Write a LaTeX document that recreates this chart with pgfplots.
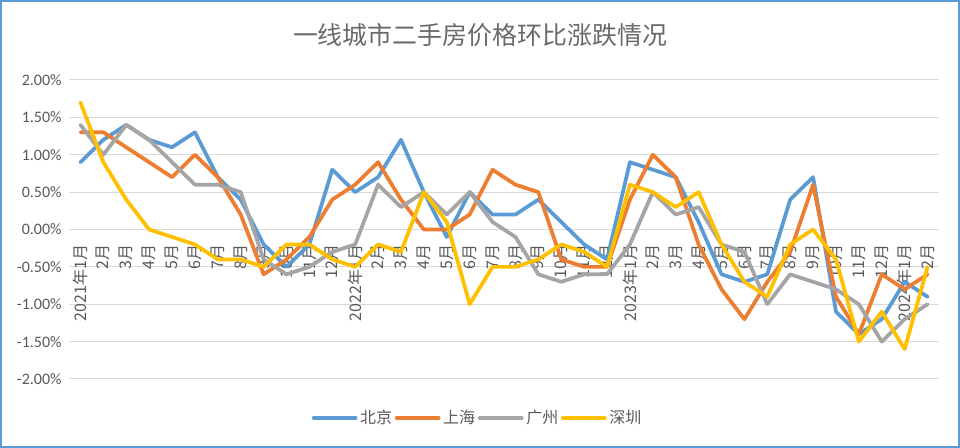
\documentclass[border=0pt]{standalone}
\usepackage{pgfplots}
\usepackage{pgfplotstable}
\pgfplotsset{compat=1.18}
\usepackage{fontspec}
\setmainfont{Carlito}
\newfontfamily\cjk{Noto Sans CJK SC}
\definecolor{bj}{HTML}{5B9BD5}
\definecolor{sh}{HTML}{ED7D31}
\definecolor{gz}{HTML}{A5A5A5}
\definecolor{sz}{HTML}{FFC000}
\definecolor{txt}{HTML}{595959}
\definecolor{titc}{HTML}{6A6A6A}
\definecolor{gridc}{HTML}{D9D9D9}
\definecolor{framec}{HTML}{5B9BD5}

\pgfplotstableread{
i bj sh gz sz
0 0.9 1.3 1.4 1.7
1 1.2 1.3 1.0 0.9
2 1.4 1.1 1.4 0.4
3 1.2 0.9 1.2 0.0
4 1.1 0.7 0.9 -0.1
5 1.3 1.0 0.6 -0.2
6 0.7 0.7 0.6 -0.4
7 0.4 0.2 0.5 -0.4
8 -0.2 -0.6 -0.4 -0.5
9 -0.5 -0.4 -0.6 -0.2
10 -0.2 -0.1 -0.5 -0.2
11 0.8 0.4 -0.3 -0.4
12 0.5 0.6 -0.2 -0.5
13 0.7 0.9 0.6 -0.2
14 1.2 0.4 0.3 -0.3
15 0.5 0.0 0.5 0.5
16 -0.1 0.0 0.2 0.1
17 0.5 0.2 0.5 -1.0
18 0.2 0.8 0.1 -0.5
19 0.2 0.6 -0.1 -0.5
20 0.4 0.5 -0.6 -0.4
21 0.1 -0.4 -0.7 -0.2
22 -0.2 -0.5 -0.6 -0.3
23 -0.4 -0.5 -0.6 -0.5
24 0.9 0.4 -0.2 0.6
25 0.8 1.0 0.5 0.5
26 0.7 0.7 0.2 0.3
27 0.1 -0.2 0.3 0.5
28 -0.6 -0.8 -0.2 -0.2
29 -0.7 -1.2 -0.3 -0.7
30 -0.6 -0.7 -1.0 -0.9
31 0.4 -0.3 -0.6 -0.2
32 0.7 0.6 -0.7 0.0
33 -1.1 -0.9 -0.8 -0.4
34 -1.4 -1.4 -1.0 -1.5
35 -1.2 -0.6 -1.5 -1.1
36 -0.7 -0.8 -1.2 -1.6
37 -0.9 -0.6 -1.0 -0.5
}\data

\begin{document}
\begin{tikzpicture}
\fill[white] (0,0) rectangle (720pt,336pt);
\draw[framec, line width=1.5pt] (0.75pt,0.75pt) rectangle (719.25pt,335.25pt);
\node[text=titc, font=\cjk\fontsize{18.7}{22}\selectfont] at (360pt,309.75pt) {一线城市二手房价格环比涨跌情况};
\begin{axis}[
  at={(51.75pt,51.75pt)}, anchor=south west,
  scale only axis, width=652.5pt, height=224.25pt,
  xmin=-0.5, xmax=37.5, ymin=-2, ymax=2,
  axis x line=middle, axis y line=left,
  hide obscured x ticks=false, hide obscured y ticks=false,
  x axis line style={-, draw=gridc, line width=0.75pt},
  y axis line style={draw=none},
  major tick length=0pt,
  ymajorgrids, grid style={gridc, line width=0.75pt},
  ytick={-2,-1.5,-1,-0.5,0,0.5,1,1.5,2},
  yticklabels={{-2.00\%},{-1.50\%},{-1.00\%},{-0.50\%},{0.00\%},{0.50\%},{1.00\%},{1.50\%},{2.00\%}},
  yticklabel style={font=\fontsize{12}{14}\selectfont, text=txt, xshift=-2pt},
  xtick={0,...,37},
  xticklabels={{2021年1月},{2月},{3月},{4月},{5月},{6月},{7月},{8月},{9月},{10月},{11月},{12月},
    {2022年1月},{2月},{3月},{4月},{5月},{6月},{7月},{8月},{9月},{10月},{11月},{12月},
    {2023年1月},{2月},{3月},{4月},{5月},{6月},{7月},{8月},{9月},{10月},{11月},{12月},
    {2024年1月},{2月}},
  xticklabel shift=8pt,
  xticklabel style={rotate=90, anchor=east, font=\cjk\fontsize{12}{14}\selectfont, text=txt},
  no markers,
  every axis plot/.append style={line width=2.8pt, line join=round, line cap=round},
  legend style={at={(0.470,-0.1304)}, anchor=center, draw=none, fill=none,
    legend columns=4, font=\cjk\fontsize{12}{14}\selectfont, text=txt,
    nodes={inner sep=2pt},
    /tikz/every odd column/.append style={column sep=0pt}},
  legend image code/.code={\draw[#1, line cap=round] (0pt,0pt) -- (31.5pt,0pt);},
]
\addplot[bj] table[x=i,y=bj]{\data};
\addplot[sh] table[x=i,y=sh]{\data};
\addplot[gz] table[x=i,y=gz]{\data};
\addplot[sz] table[x=i,y=sz]{\data};
\legend{北京,上海,广州,深圳}
\end{axis}
\end{tikzpicture}
\end{document}
